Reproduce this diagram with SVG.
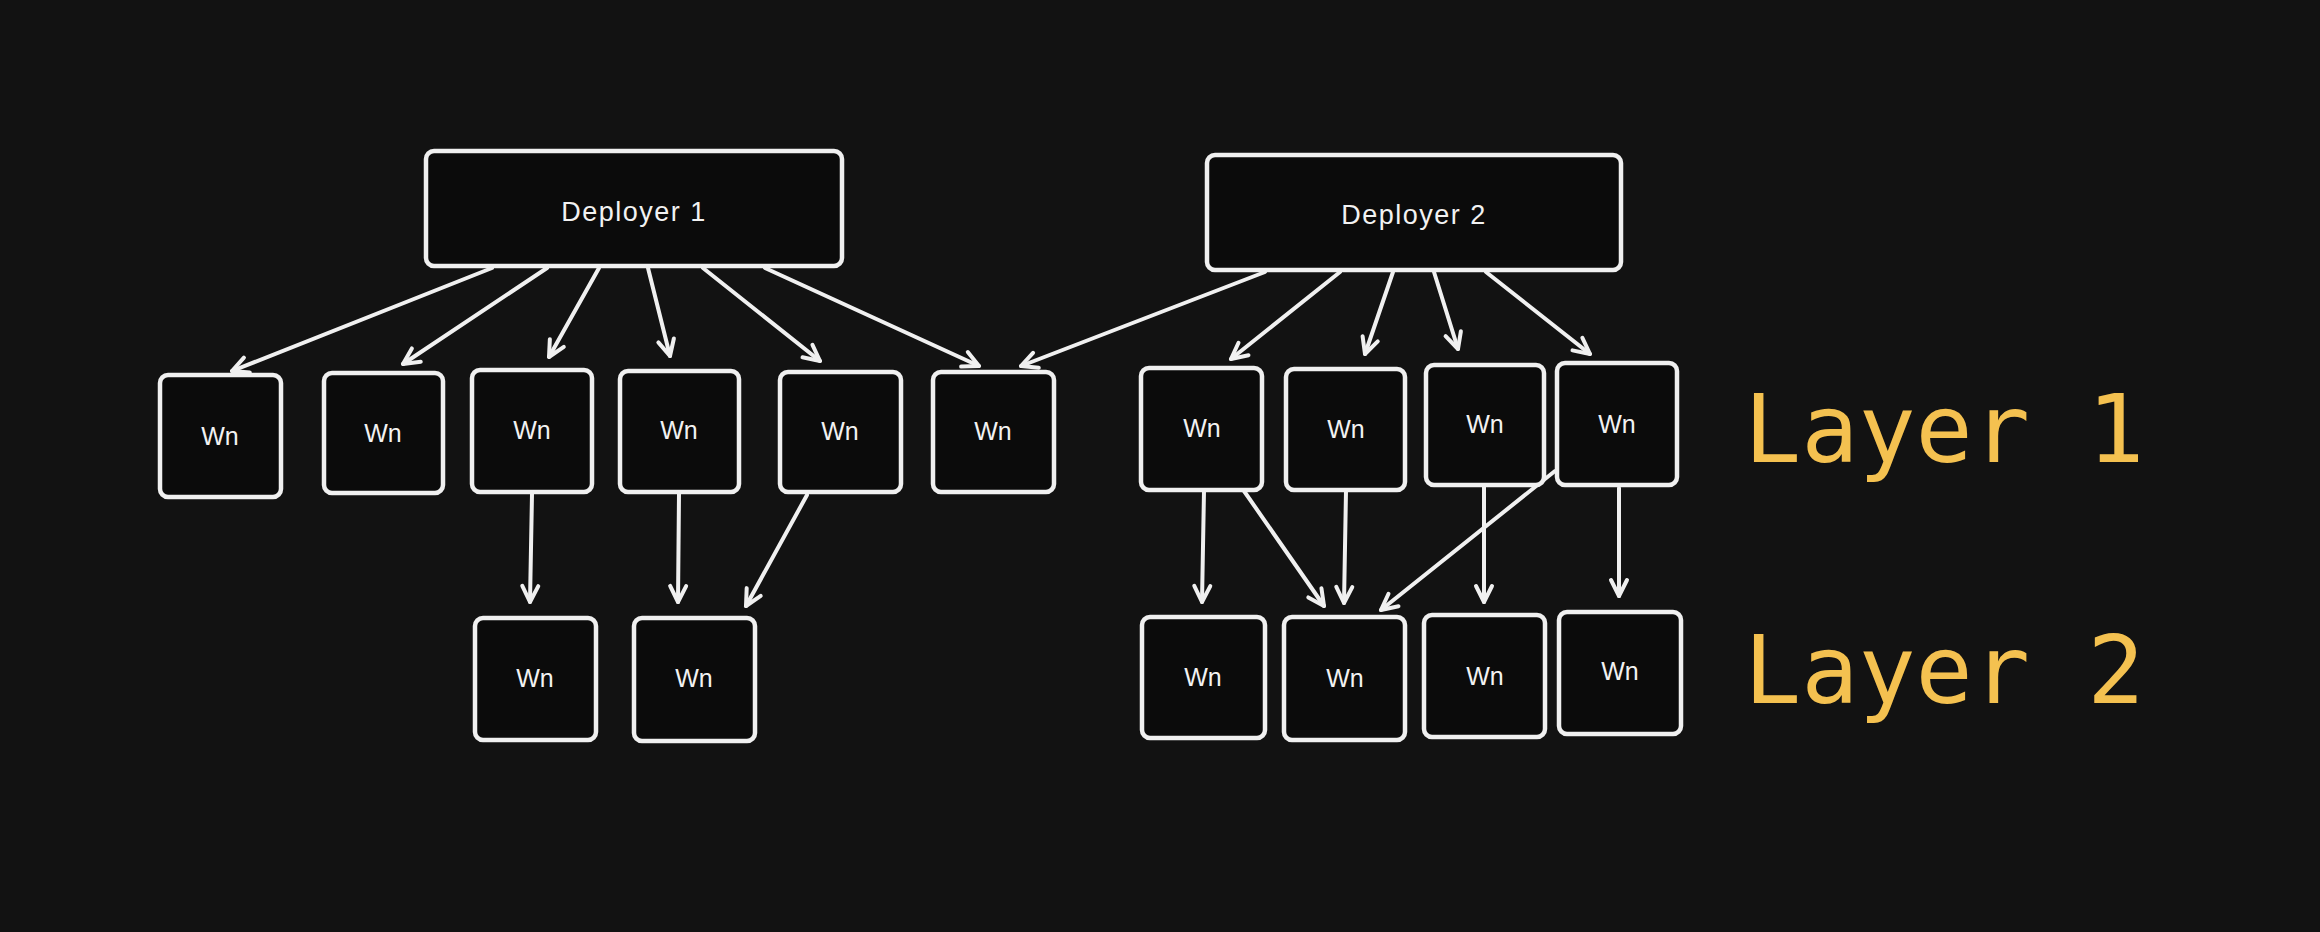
<svg xmlns="http://www.w3.org/2000/svg" width="2320" height="932" viewBox="0 0 2320 932">
<style>
.box{fill:#0b0b0b;stroke:#f0f0f0;stroke-width:4.5}
.lbl{font-family:"Liberation Sans",Arial,sans-serif;fill:#f2f2f2;text-anchor:middle}
.wn{font-size:25px}
.dep{font-size:27px;letter-spacing:1.5px}
.layer{font-family:"DejaVu Sans Mono","Liberation Mono",monospace;font-size:95px;fill:#f4c150}
.edge{stroke:#f0f0f0;stroke-width:4;fill:none;stroke-linecap:round;marker-end:url(#ah)}
</style>
<defs>
<marker id="ah" viewBox="-20 -12 24 24" refX="0" refY="0" markerWidth="24" markerHeight="24" markerUnits="userSpaceOnUse" orient="auto">
<path d="M-16,-8 L0,0 L-16,8" fill="none" stroke="#f0f0f0" stroke-width="4" stroke-linecap="round" stroke-linejoin="round"/>
</marker>
</defs>
<rect width="2320" height="932" fill="#121212"/>

<g id="connectors">
<line class="edge" x1="492" y1="268" x2="232" y2="371"/>
<line class="edge" x1="547" y1="268" x2="403" y2="364"/>
<line class="edge" x1="599" y1="268" x2="549" y2="357"/>
<line class="edge" x1="648" y1="268" x2="670" y2="356"/>
<line class="edge" x1="703" y1="268" x2="820" y2="361"/>
<line class="edge" x1="765" y1="268" x2="979" y2="366"/>
<line class="edge" x1="1265" y1="272" x2="1021" y2="366"/>
<line class="edge" x1="1340" y1="272" x2="1231" y2="359"/>
<line class="edge" x1="1393" y1="272" x2="1365" y2="354"/>
<line class="edge" x1="1434" y1="272" x2="1458" y2="349"/>
<line class="edge" x1="1486" y1="272" x2="1590" y2="354"/>
<line class="edge" x1="532" y1="494" x2="530" y2="602"/>
<line class="edge" x1="679" y1="494" x2="678" y2="602"/>
<line class="edge" x1="807" y1="495" x2="746" y2="606"/>
<line class="edge" x1="1204" y1="491" x2="1202" y2="602"/>
<line class="edge" x1="1244" y1="491" x2="1324" y2="606"/>
<line class="edge" x1="1346" y1="491" x2="1344" y2="603"/>
<line class="edge" x1="1484" y1="486" x2="1484" y2="602"/>
<line class="edge" x1="1555" y1="471" x2="1381" y2="610"/>
<line class="edge" x1="1619" y1="488" x2="1619" y2="596"/>
</g>

<g id="deployer1"><rect class="box" x="426" y="151" width="416" height="115" rx="8"/><text class="lbl dep" x="634" y="221">Deployer 1</text></g>
<g id="deployer2"><rect class="box" x="1207" y="155" width="414" height="115" rx="8"/><text class="lbl dep" x="1414" y="224">Deployer 2</text></g>

<g id="l1a"><rect class="box" x="160" y="375" width="121" height="122" rx="8"/><text class="lbl wn" x="220" y="445">Wn</text></g>
<g id="l1b"><rect class="box" x="324" y="373" width="119" height="120" rx="8"/><text class="lbl wn" x="383" y="442">Wn</text></g>
<g id="l1c"><rect class="box" x="472" y="370" width="120" height="122" rx="8"/><text class="lbl wn" x="532" y="439">Wn</text></g>
<g id="l1d"><rect class="box" x="620" y="371" width="119" height="121" rx="8"/><text class="lbl wn" x="679" y="439">Wn</text></g>
<g id="l1e"><rect class="box" x="780" y="372" width="121" height="120" rx="8"/><text class="lbl wn" x="840" y="440">Wn</text></g>
<g id="l1f"><rect class="box" x="933" y="372" width="121" height="120" rx="8"/><text class="lbl wn" x="993" y="440">Wn</text></g>

<g id="l2a"><rect class="box" x="475" y="618" width="121" height="122" rx="8"/><text class="lbl wn" x="535" y="687">Wn</text></g>
<g id="l2b"><rect class="box" x="634" y="618" width="121" height="123" rx="8"/><text class="lbl wn" x="694" y="687">Wn</text></g>

<g id="r1a"><rect class="box" x="1141" y="368" width="121" height="122" rx="8"/><text class="lbl wn" x="1202" y="437">Wn</text></g>
<g id="r1b"><rect class="box" x="1286" y="369" width="119" height="121" rx="8"/><text class="lbl wn" x="1346" y="438">Wn</text></g>
<g id="r1c"><rect class="box" x="1426" y="365" width="118" height="120" rx="8"/><text class="lbl wn" x="1485" y="433">Wn</text></g>
<g id="r1d"><rect class="box" x="1557" y="363" width="120" height="122" rx="8"/><text class="lbl wn" x="1617" y="433">Wn</text></g>

<g id="r2a"><rect class="box" x="1142" y="617" width="123" height="121" rx="8"/><text class="lbl wn" x="1203" y="686">Wn</text></g>
<g id="r2b"><rect class="box" x="1284" y="617" width="121" height="123" rx="8"/><text class="lbl wn" x="1345" y="687">Wn</text></g>
<g id="r2c"><rect class="box" x="1424" y="615" width="121" height="122" rx="8"/><text class="lbl wn" x="1485" y="685">Wn</text></g>
<g id="r2d"><rect class="box" x="1559" y="612" width="122" height="122" rx="8"/><text class="lbl wn" x="1620" y="680">Wn</text></g>

<g id="layer1"><text class="layer" x="1744" y="462">Layer 1</text></g>
<g id="layer2"><text class="layer" x="1744" y="703">Layer 2</text></g>
</svg>
